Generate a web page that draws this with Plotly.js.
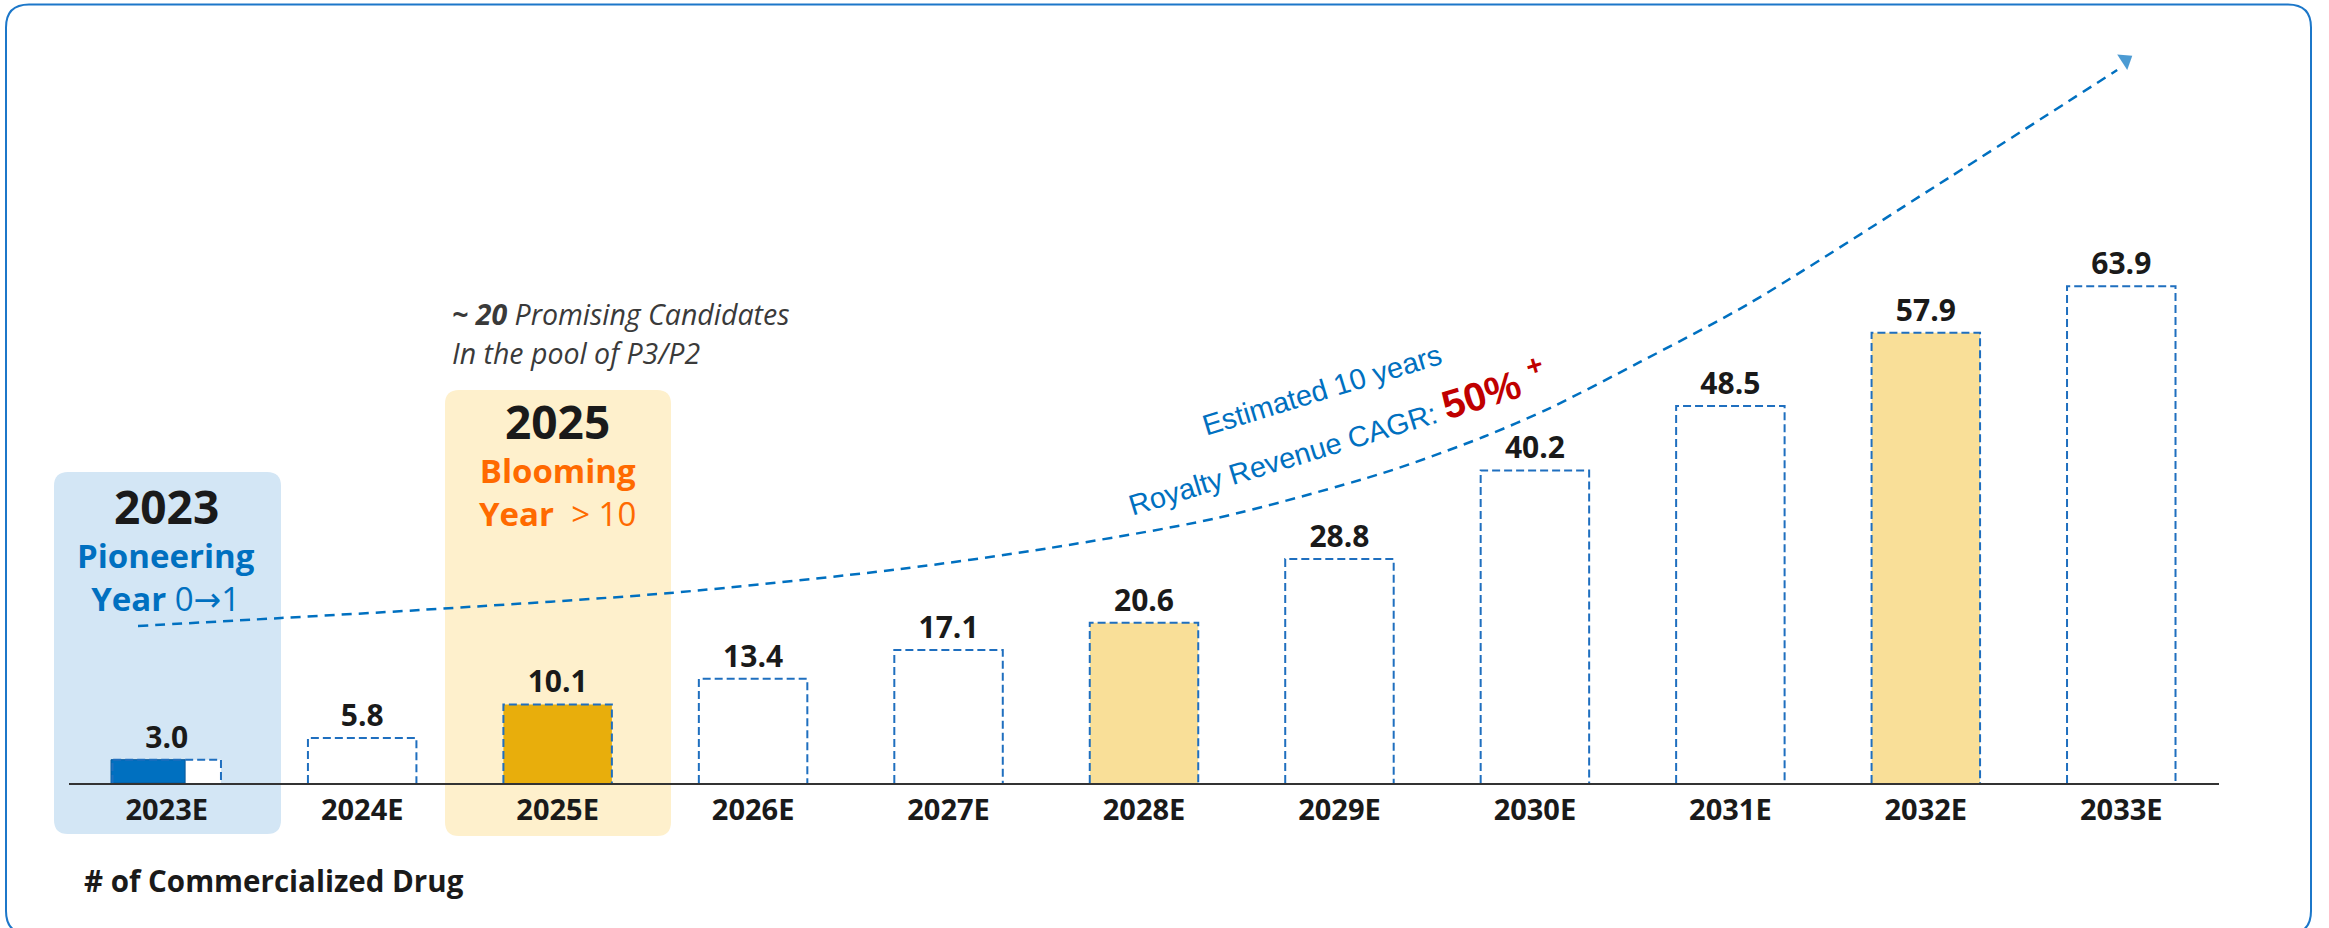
<!DOCTYPE html>
<html><head><meta charset="utf-8">
<script src="https://cdn.plot.ly/plotly-3.0.1.min.js"></script>
<style>html,body{margin:0;padding:0;background:#fff;overflow:hidden;} #chart{width:2329px;height:928px;}</style>
</head><body><div id="chart"></div>
<script>
// ---------------- data ----------------
const categories = ['2023E','2024E','2025E','2026E','2027E','2028E','2029E','2030E','2031E','2032E','2033E'];
const drugCounts = [3.0, 5.8, 10.1, 13.4, 17.1, 20.6, 28.8, 40.2, 48.5, 57.9, 63.9];
const valueLabels = ['3.0','5.8','10.1','13.4','17.1','20.6','28.8','40.2','48.5','57.9','63.9'];
// decorative CAGR trend curve (axis units)
const trendX = [-0.147, 0.585, 1.296, 2.575, 3.752, 4.519, 5.374, 6.223, 6.735, 7.077, 7.538, 8.101, 9.124, 9.979];
const trendY = [20.19, 21.22, 22.25, 24.44, 27.52, 30.23, 34.08, 39.87, 44.50, 48.23, 54.15, 61.74, 77.94, 91.70];
const arrowX = [9.549, 10.022];
const arrowY = [85.27, 92.97];

// ---------------- styles ----------------
const W = 2329, H = 928;
const M = {l: 69, r: 110, t: 20, b: 145};
const PW = W - M.l - M.r, PH = H - M.t - M.b;
const Y_MAX = PH / 7.775;
const BAR_W = 0.555;
const BLUE = '#0070c0';
const fillColors = ['#ffffff','#ffffff','#e8ae0c','#ffffff','#ffffff','#f9df98','#ffffff','#ffffff','#ffffff','#f9df98','#ffffff'];
const FONT = 'Open Sans, Noto Sans, sans-serif';
const INK = '#1a1a1a';

const X = px => (px - M.l) / PW;
const Y = py => (H - M.b - py) / PH;
function rr(x0, y0, x1, y1, r) {
  return `M${X(x0 + r)},${Y(y0)} L${X(x1 - r)},${Y(y0)} Q${X(x1)},${Y(y0)} ${X(x1)},${Y(y0 + r)} ` +
         `L${X(x1)},${Y(y1 - r)} Q${X(x1)},${Y(y1)} ${X(x1 - r)},${Y(y1)} L${X(x0 + r)},${Y(y1)} ` +
         `Q${X(x0)},${Y(y1)} ${X(x0)},${Y(y1 - r)} L${X(x0)},${Y(y0 + r)} Q${X(x0)},${Y(y0)} ${X(x0 + r)},${Y(y0)} Z`;
}
function ann(text, px, py, font, extra) {
  return Object.assign({text: text, x: X(px), y: Y(py), xref: 'paper', yref: 'paper', showarrow: false,
    xanchor: 'center', yanchor: 'middle', borderpad: 0, font: font}, extra || {});
}

const xIdx = categories.map((c, i) => i);

// dashed outlines built from the values
const outX = [], outY = [];
drugCounts.forEach((v, i) => {
  outX.push(i - BAR_W / 2, i - BAR_W / 2, i + BAR_W / 2, i + BAR_W / 2, null);
  outY.push(0, v, v, 0, null);
});

const traces = [
  { type: 'bar', x: xIdx, y: drugCounts, width: BAR_W,
    marker: {color: fillColors, line: {width: 0}},
    text: valueLabels, textposition: 'outside', cliponaxis: false, constraintext: 'none',
    textfont: {family: FONT, size: 30, color: INK, weight: 'bold'}, hoverinfo: 'skip' },
  { type: 'bar', x: [0], y: [drugCounts[0]], width: 0.379, offset: -0.285,
    marker: {color: BLUE, line: {width: 1, color: '#0a5a9a'}}, hoverinfo: 'skip' },
  { type: 'scatter', mode: 'lines', x: outX, y: outY, cliponaxis: false,
    line: {color: '#1f6fbf', width: 2, dash: '8px,4px'}, hoverinfo: 'skip' },
  { type: 'scatter', mode: 'lines', x: trendX, y: trendY, cliponaxis: false,
    line: {color: BLUE, width: 2.5, dash: '10px,7px', shape: 'spline', smoothing: 0.8}, hoverinfo: 'skip' },
  { type: 'scatter', mode: 'markers', x: arrowX, y: arrowY, cliponaxis: false,
    marker: {symbol: 'triangle-up', size: [0, 16], color: BLUE, angleref: 'previous', line: {width: 0}}, hoverinfo: 'skip' }
];

const shapes = [
  {type: 'path', xref: 'paper', yref: 'paper', layer: 'below', path: rr(6, 4.5, 2311, 934, 23),
   line: {color: '#1c77c9', width: 2}, fillcolor: 'rgba(0,0,0,0)'},
  {type: 'path', xref: 'paper', yref: 'paper', layer: 'below', path: rr(54, 472, 281, 834, 14),
   line: {width: 0}, fillcolor: '#d3e6f5'},
  {type: 'path', xref: 'paper', yref: 'paper', layer: 'below', path: rr(445, 390, 671, 836, 14),
   line: {width: 0}, fillcolor: '#fef0cc'}
];

const ARROW = '<span style="font-family:DejaVu Sans">→</span>';
const annotations = [
  ann('2023', 166, 506, {family: FONT, size: 46, color: INK, weight: 'bold'}),
  ann('<b>Pioneering</b><br><b>Year</b> 0' + ARROW + '1', 166, 577, {family: FONT, size: 33, color: BLUE}),
  ann('2025', 557, 421, {family: FONT, size: 46, color: INK, weight: 'bold'}),
  ann('<b>Blooming</b><br><b>Year</b>\u00a0 > 10', 557, 492, {family: FONT, size: 33, color: '#ff6a00'}),
  ann('<i><b>~ 20</b> Promising Candidates</i>', 451, 314, {family: FONT, size: 28.5, color: '#3a3a3a'}, {xanchor: 'left'}),
  ann('<i>In the pool of P3/P2</i>', 451, 353, {family: FONT, size: 28.5, color: '#3a3a3a'}, {xanchor: 'left'}),
  ann('Estimated 10 years', 1322, 390, {family: 'Liberation Sans, Arial, sans-serif', size: 29, color: BLUE}, {textangle: -17}),
  ann('Royalty Revenue CAGR: <span style="color:#c00000;font-weight:bold;font-size:40px">50% <sup>+</sup></span>', 1336, 436,
      {family: 'Liberation Sans, Arial, sans-serif', size: 29, color: BLUE}, {textangle: -17}),
  ann('# of Commercialized Drug', 83, 880, {family: FONT, size: 29.5, color: INK, weight: 'bold'}, {xanchor: 'left'})
];

const layout = {
  width: W, height: H,
  margin: {l: M.l, r: M.r, t: M.t, b: M.b, pad: 0},
  paper_bgcolor: '#ffffff', plot_bgcolor: 'rgba(0,0,0,0)',
  showlegend: false, barmode: 'overlay', hovermode: false,
  xaxis: {range: [-0.5, 10.5], tickvals: xIdx, ticktext: categories, showgrid: false, zeroline: false,
    showline: true, linecolor: '#333333', linewidth: 2, ticks: '',
    tickfont: {family: FONT, size: 29, color: INK, weight: 'bold'}, fixedrange: true},
  yaxis: {range: [0, Y_MAX], visible: false, showgrid: false, zeroline: false, fixedrange: true},
  shapes: shapes, annotations: annotations
};

Plotly.newPlot('chart', traces, layout, {staticPlot: true, displayModeBar: false});
</script></body></html>
